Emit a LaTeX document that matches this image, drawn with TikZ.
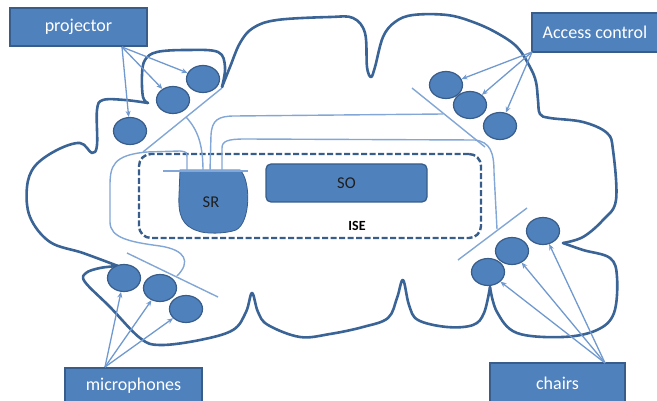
\documentclass[tikz,border=0pt]{standalone}
\usepackage{fontspec}
\setmainfont{Carlito}
\usetikzlibrary{shapes.geometric,arrows.meta}
\definecolor{boxfill}{HTML}{4F81BD}
\definecolor{boxdraw}{HTML}{385D8A}
\definecolor{roomc}{HTML}{3A6496}
\definecolor{lightc}{HTML}{82A6D6}
\definecolor{arrc}{HTML}{7099CF}
\definecolor{textc}{HTML}{1F1F1F}
\begin{document}
\begin{tikzpicture}[x=1pt,y=-1pt,
  room/.style={draw=roomc, line width=2.6pt, line join=round, line cap=round},
  wire/.style={draw=lightc, line width=1.4pt},
  dev/.style={ellipse, fill=boxfill, draw=boxdraw, line width=1.2pt, minimum width=33pt, minimum height=27pt, inner sep=0pt},
  arr/.style={draw=arrc, line width=1.3pt, -{Stealth[length=6pt,width=5pt]}},
  labelbox/.style={rectangle, fill=boxfill, draw=boxdraw, line width=1.3pt, text=white, font=\fontsize{18}{20}\selectfont, inner sep=0pt},
  isebox/.style={rectangle, draw=boxdraw, line width=2.4pt, dash pattern=on 6pt off 2.5pt, rounded corners=12pt, inner sep=0pt},
  sobox/.style={rectangle, fill=boxfill, draw=boxdraw, line width=1.3pt, rounded corners=5pt, text=textc, font=\fontsize{16.5}{18}\selectfont, inner sep=0pt},
]
\useasboundingbox (0,0) rectangle (657,401);

% room outline
\draw[room] plot[smooth, tension=0.6] coordinates {(222,87) (225,67) (218,52) (187,50) (157,52) (145,60) (142,75) (143,97) (148,103)};
\draw[room] plot[smooth, tension=0.6] coordinates {(148,103) (125,100) (103,100) (97,110) (97,145) (92,153) (80,143) (57,150) (35,166) (27,187) (30,217) (50,242) (83,253) (118,266)};
\draw[room] plot[smooth, tension=0.6] coordinates {(118,266) (100,268) (86,273) (85,282) (110,307) (140,338) (160,345) (200,340) (233,330) (246,312) (252,293) (258,312) (268,325) (300,337) (330,334) (363,327) (388,318) (397,298) (403,280) (409,305) (418,320) (447,327) (473,325) (484,313) (490,287)};
\draw[room] plot[smooth, tension=0.6] coordinates {(490,287) (497,312) (517,333) (563,337) (597,330) (614,313) (617,277) (610,258) (583,250) (563,243)};
\draw[room] plot[smooth, tension=0.6] coordinates {(563,243) (583,237) (603,220) (616,200) (613,150) (607,133) (583,122) (550,118) (540,114) (538,100) (536,82) (530,67) (517,47) (497,33) (473,22) (447,15) (413,15) (395,22) (383,37) (375,67) (371,77) (367,67) (365,33) (353,18) (330,17) (277,20) (253,28) (240,43) (230,67) (222,87)};

% ISE frame
\node[isebox, minimum width=342pt, minimum height=84pt] (iseframe) at (310,196) {};

% device bars
\coordinate (pb1) at (222,88);
\coordinate (pb2) at (143,152);
\coordinate (ab1) at (412,88);
\coordinate (ab2) at (485,147);
\coordinate (cb1) at (527,208);
\coordinate (cb2) at (458,260);
\coordinate (mb1) at (127,253);
\coordinate (mb2) at (218,297);
\coordinate (sb1) at (163,171);
\coordinate (sb2) at (248,171);
\draw[wire] (pb1) -- (pb2);
\draw[wire] (ab1) -- (ab2);
\draw[wire] (cb1) -- (cb2);
\draw[wire] (mb1) -- (mb2);

% SR
\path[fill=boxfill, draw=boxdraw, line width=0.8pt] (180,170) -- (240,170) .. controls (251,180) and (251,222) .. (236,230) .. controls (225,234) and (205,234) .. (198,231) .. controls (182,226) and (178,215) .. (179,195) -- cycle;
\node[text=textc, font=\fontsize{16.5}{18}\selectfont, inner sep=0pt] (sr) at (211,202) {SR};
\draw[wire] (sb1) -- (sb2);

% wires from SR
\draw[wire] (187,171) -- (187,158) .. controls (187,152) .. (180,151) -- (147,152) .. controls (113,155) and (110,166) .. (110,186) -- (110,222) .. controls (110,238) and (130,242) .. (160,246) .. controls (186,250) and (191,262) .. (177,276);
\draw[wire] (186,117) .. controls (198,130) and (203,145) .. (203,171);
\draw[wire] (210,171) -- (211,135) .. controls (212,120) and (218,116) .. (235,116) -- (443,114);
\draw[wire] (222,171) -- (222,148) .. controls (222,141) and (228,139) .. (245,139) -- (475,140) .. controls (490,142) and (494,152) .. (494,172) -- (497,229);

% SO and ISE
\node[sobox, minimum width=161pt, minimum height=38pt] (so) at (346.5,183) {SO};
\node[font=\fontsize{14}{16}\selectfont\bfseries, inner sep=0pt] (ise) at (357,226) {ISE};

% devices
\node[dev] (c1) at (203,79) {};
\node[dev] (c2) at (173,100) {};
\node[dev] (c3) at (130,131) {};
\node[dev] (a1) at (446,85) {};
\node[dev] (a2) at (470,105) {};
\node[dev] (a3) at (500,126) {};
\node[dev] (m1) at (124,278) {};
\node[dev] (m2) at (160,288) {};
\node[dev] (m3) at (186,309) {};
\node[dev] (ch1) at (488,272) {};
\node[dev] (ch2) at (512,251) {};
\node[dev] (ch3) at (543,231) {};

% label boxes
\node[labelbox, minimum width=137pt, minimum height=38pt] (projector) at (78.5,27) {projector};
\node[labelbox, minimum width=126pt, minimum height=39pt] (access) at (595,32.5) {Access control};
\node[labelbox, minimum width=137pt, minimum height=36pt] (micro) at (133.5,386) {microphones};
\node[labelbox, minimum width=135pt, minimum height=41pt] (chairs) at (557.5,383.5) {chairs};

% arrows
\coordinate (pjs) at (122,47);
\coordinate (acs) at (532,52);
\coordinate (mcs) at (105,367);
\coordinate (chs) at (605,363);
\draw[arr] (pjs) -- (c1);
\draw[arr] (pjs) -- (c2);
\draw[arr] (pjs) -- (c3);
\draw[arr] (acs) -- (a1);
\draw[arr] (acs) -- (a2);
\draw[arr] (acs) -- (a3);
\draw[arr] (mcs) -- (m1);
\draw[arr] (mcs) -- (m2);
\draw[arr] (mcs) -- (m3);
\draw[arr] (chs) -- (ch1);
\draw[arr] (chs) -- (ch2);
\draw[arr] (chs) -- (ch3);
\end{tikzpicture}
\end{document}
